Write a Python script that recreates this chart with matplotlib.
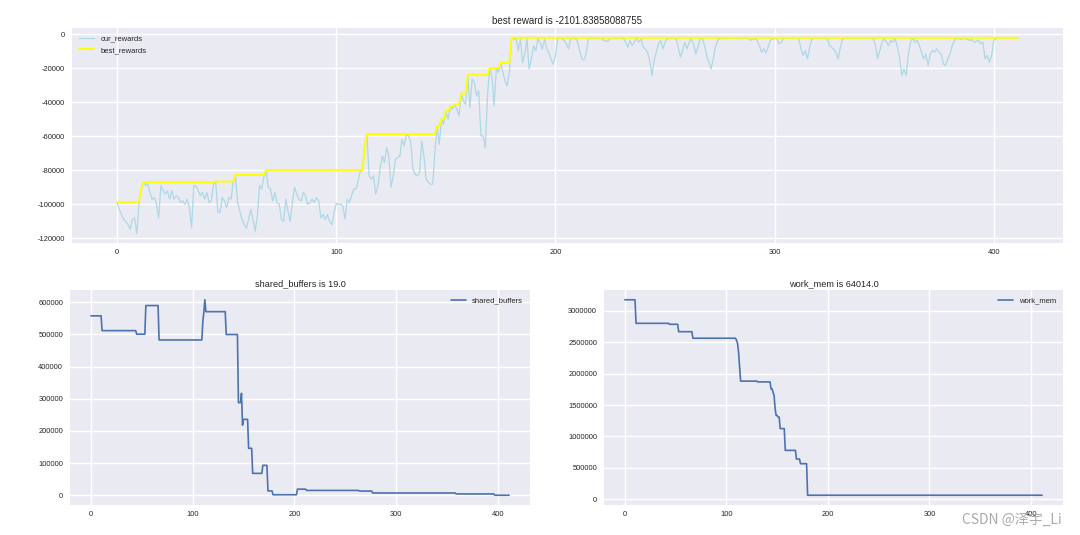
import numpy as np
import matplotlib
matplotlib.use("Agg")
import matplotlib.pyplot as plt

# reward of every tuning step
cur_rewards = [
    -98600, -103000, -106000, -109000, -110000, -112000, -114500, -109000, -108000, -117000,
    -100000, -91000, -87000, -89000, -88000, -93000, -97000, -96000, -100000, -108000,
    -89000, -92000, -94000, -92000, -97000, -92000, -97000, -95000, -96000, -99000,
    -98000, -100000, -97000, -102000, -114000, -89000, -89000, -92000, -95000, -93000,
    -97000, -93000, -99000, -98000, -88000, -86600, -104700, -104700, -96000, -98000,
    -102000, -96000, -97000, -87000, -82700, -99000, -104000, -108800, -112000, -114000,
    -109000, -103000, -108800, -115800, -107000, -89000, -91000, -84000, -79800, -90000,
    -91000, -98000, -93000, -99000, -100000, -109000, -110000, -97000, -104000, -110000,
    -99000, -90000, -94000, -97000, -98000, -93000, -95000, -100000, -99000, -97000,
    -99000, -96000, -98000, -108000, -106000, -109000, -106000, -110000, -112000, -105000,
    -99400, -100000, -100000, -101000, -108800, -97000, -99000, -95000, -91000, -91000,
    -86000, -80500, -80000, -65700, -58800, -83300, -85300, -83300, -94000, -89000,
    -79400, -71600, -75500, -66700, -71600, -90000, -83300, -73500, -72500, -71600,
    -61800, -65700, -58900, -59800, -63700, -79400, -82400, -83300, -81400, -62700,
    -71600, -85300, -87000, -88200, -88200, -69600, -53900, -64700, -50000, -53000,
    -45100, -50000, -42500, -44100, -41200, -44000, -48000, -34900, -39200, -41200,
    -23900, -43000, -26500, -28400, -36300, -33300, -59800, -59800, -66700, -36300,
    -20000, -24500, -42200, -20600, -22500, -16700, -22500, -27500, -30400, -22000,
    -2101.84, -2900, -2500, -9800, -2900, -16700, -11800, -2900, -20600, -14700,
    -6900, -9800, -2900, -4900, -8800, -2900, -8800, -10800, -14700, -17600,
    -12700, -2500, -2300, -2600, -3700, -5700, -8600, -2400, -2600, -2500,
    -4000, -9600, -14500, -15100, -11600, -2700, -2300, -2400, -2200, -2300,
    -2500, -2300, -3700, -4100, -4100, -2400, -2200, -2300, -2500, -2200,
    -2400, -2300, -4700, -7600, -3700, -6700, -4700, -2700, -4700, -3000,
    -7600, -8600, -10600, -15500, -24300, -15500, -10600, -5700, -3700, -8600,
    -4700, -2700, -2300, -2400, -2200, -2300, -7600, -13500, -9600, -4700,
    -8600, -4700, -2800, -5700, -11600, -7600, -2700, -2400, -6700, -12500,
    -16500, -20400, -14500, -7600, -3700, -2400, -2200, -2300, -2500, -2200,
    -2300, -2400, -2200, -2600, -2300, -2200, -2400, -2500, -2300, -3700,
    -2800, -2500, -3500, -6700, -10600, -8600, -11200, -7600, -3700, -2700,
    -2400, -2300, -5700, -4700, -2500, -2300, -2200, -2400, -2300, -2200,
    -2300, -2400, -8600, -12500, -9600, -14500, -7600, -2700, -2300, -2200,
    -2400, -2300, -2200, -2500, -2300, -6700, -7600, -9000, -10600, -14500,
    -7600, -2700, -2300, -2200, -2400, -2300, -2200, -2500, -2300, -2200,
    -2400, -2300, -2200, -2300, -2500, -2300, -6700, -14500, -9600, -4700,
    -2700, -4700, -6700, -3700, -4700, -2700, -7600, -14000, -24300, -20400,
    -24300, -12000, -4700, -2400, -4700, -3700, -6700, -10600, -14500, -11600,
    -18400, -11600, -9600, -10600, -8600, -10600, -11600, -17500, -18400, -14500,
    -11600, -6700, -3700, -2400, -2600, -2900, -2500, -2700, -3000, -3700,
    -3200, -4700, -4000, -3700, -5700, -4700, -14500, -12500, -16500, -12500,
    -3700, -2500, -2200, -2101.84, -2200, -2101.84, -2101.84, -2200, -2101.84, -2101.84,
    -2101.84, -2101.84,
]

# best reward so far: level and how many steps it holds
best_values = [-98600, -91000, -87000, -86600, -82700, -79800, -65700, -58800, -53900,
               -50000, -45100, -42500, -41200, -34900, -23900, -20000, -16700,
               -2101.83858088755]
best_runs = [11, 1, 33, 9, 14, 45, 1, 32, 2, 2, 2, 2, 3, 3, 10, 5, 5, 232]

# knob values: level and how many steps it holds
shared_values = [558000, 512000, 501000, 590000, 483000, 540000, 570000, 608000, 571000,
                 500000, 288000, 317000, 218000, 236000, 146000, 68000, 93000, 13500,
                 1500, 19000, 15000, 13000, 7000, 4000, 19.0]
shared_runs = [11, 34, 9, 13, 43, 1, 1, 1, 20, 12, 3, 1, 1, 5, 4, 10, 5, 5, 24, 9, 52,
               13, 82, 38, 15]

work_mem_values = [3175000, 2800000, 2785000, 2667000, 2563000, 2530000, 2480000, 2340000,
                   2100000, 1880000, 1868000, 1757000, 1700000, 1651000, 1439000, 1333000,
                   1307000, 1125000, 778000, 640000, 566000, 64014.0]
work_mem_runs = [11, 33, 9, 14, 43, 1, 1, 1, 1, 17, 13, 2, 1, 1, 1, 2, 2, 5, 11, 4, 7, 232]

best_rewards = np.repeat(best_values, best_runs)
shared_buffers = np.repeat(shared_values, shared_runs)
work_mem = np.repeat(work_mem_values, work_mem_runs)
steps = np.arange(len(cur_rewards))

plt.style.use("seaborn-v0_8")
plt.rcParams["font.family"] = ["Liberation Sans", "DejaVu Sans"]
plt.rcParams["axes.unicode_minus"] = False

W, H = 1080, 535
fig = plt.figure(figsize=(W / 100, H / 100), dpi=100)


def box(left, right, top, bottom):
    return [left / W, 1 - bottom / H, (right - left) / W, (bottom - top) / H]


ax1 = fig.add_axes(box(72, 1063, 28, 243))
ax2 = fig.add_axes(box(70, 530, 290, 505))
ax3 = fig.add_axes(box(604, 1063, 290, 505))

ax1.plot(steps, cur_rewards, color="lightblue", lw=0.9, label="cur_rewards")
ax1.plot(steps, best_rewards, color="yellow", lw=1.4, label="best_rewards")
ax1.legend(loc="upper left", fontsize=5.5, labelspacing=0.6)
ax1.set_title(f"best reward is {best_values[-1]}", fontsize=7, pad=3)

ax2.plot(steps, shared_buffers, lw=1.2, label="shared_buffers")
ax2.legend(loc="upper right", fontsize=5.5)
ax2.set_title(f"shared_buffers is {shared_values[-1]}", fontsize=6.6, pad=3)

ax3.plot(steps, work_mem, lw=1.2, label="work_mem")
ax3.legend(loc="upper right", fontsize=5.5)
ax3.set_title(f"work_mem is {work_mem_values[-1]}", fontsize=6.6, pad=3)

for ax in (ax1, ax2, ax3):
    ax.ticklabel_format(style="plain", useOffset=False)
    ax.tick_params(axis="both", labelsize=5.4)
    ax.tick_params(axis="y", pad=5)
    ax.tick_params(axis="x", pad=4)

fig.text(1062 / W, 1 - 520 / H, "CSDN @泽宇_Li", ha="right", va="center",
         fontsize=10, color="#aaaaaa", family=["Noto Sans CJK SC", "DejaVu Sans"])

fig.savefig("out.png", dpi=100)
